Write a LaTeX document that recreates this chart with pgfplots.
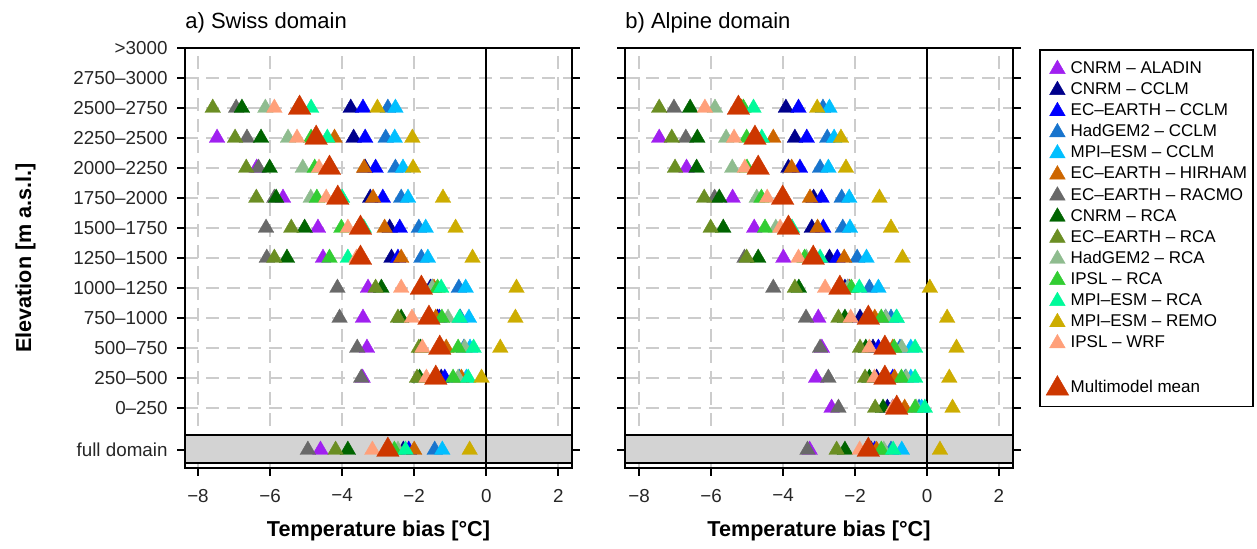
\documentclass[border=0pt]{standalone}
\usepackage{fontspec}
\setmainfont{Liberation Sans}
\usepackage{pgfplots}
\pgfplotsset{compat=1.18}
\definecolor{cAladin}{HTML}{A020F0}
\definecolor{cCnrmCclm}{HTML}{00008B}
\definecolor{cEcCclm}{HTML}{0000FF}
\definecolor{cHadCclm}{HTML}{1874CD}
\definecolor{cMpiCclm}{HTML}{00BFFF}
\definecolor{cHirham}{HTML}{CD6600}
\definecolor{cRacmo}{HTML}{696969}
\definecolor{cCnrmRca}{HTML}{006400}
\definecolor{cEcRca}{HTML}{6B8E23}
\definecolor{cHadRca}{HTML}{8FBC8F}
\definecolor{cIpslRca}{HTML}{32CD32}
\definecolor{cMpiRca}{HTML}{00FA9A}
\definecolor{cRemo}{HTML}{CDAD00}
\definecolor{cWrf}{HTML}{FFA07A}
\definecolor{cMean}{HTML}{CD3700}
\definecolor{bandgray}{HTML}{D3D3D3}
\definecolor{gridgray}{HTML}{CCCCCC}
\pgfplotsset{
 panel/.style={
  scale only axis, height=210pt, ymin=-2, ymax=12,
  ytick={-1.4,0,1,2,3,4,5,6,7,8,9,10,11,12},
  xtick={-8,-6,-4,-2,0,2},
  xticklabels={−8,−6,−4,−2,0,2},
  tick align=outside, xtick pos=left, major tick length=4pt,
  axis line style={line width=1pt},
  tick style={line width=1pt, black},
  grid=major,
  major grid style={gridgray, line width=0.9pt, dash pattern=on 6.5pt off 4pt},
  tick label style={font=\fontsize{9.4}{11}\selectfont, text=black!85},
  yticklabel style={xshift=-1.2pt},
  xticklabel style={yshift=-3pt},
  label style={font=\bfseries\fontsize{10.8}{13}\selectfont},
  title style={font=\fontsize{11}{13}\selectfont, at={(0,1)}, anchor=base west, yshift=3.5pt, inner sep=0pt},
  xlabel={Temperature bias [°C]},
  xlabel style={at={(axis description cs:0.5,-0.15)}, anchor=center},
  clip=false,
  legend image code/.code={\draw[mark repeat=2,mark phase=2,##1] plot coordinates {(0pt,0pt) (6.8pt,0pt) (13.6pt,0pt)};},
 },
 tri/.style={only marks, mark=triangle*, mark size=4.5pt, color=#1, line width=0.2pt},
 bigtri/.style={only marks, mark=triangle*, mark size=6.5pt, color=#1, line width=0.2pt},
}
\begin{document}
\begin{tikzpicture}
\useasboundingbox (0,0) rectangle (628.5pt,274.5pt);
% ---------------- Panel a ----------------
\begin{axis}[panel, at={(92.5pt,40.5pt)}, anchor=south west, width=193.5pt,
  xmin=-8.36, xmax=2.38,
  title={a) Swiss domain},
  yticklabels={full domain,0–250,250–500,500–750,750–1000,1000–1250,1250–1500,1500–1750,1750–2000,2000–2250,2250–2500,2500–2750,2750–3000,>3000},
  ylabel={Elevation [m a.s.l.]},
  ylabel style={at={(axis description cs:-0.412,0.5)}, anchor=center},
]
\draw[black, line width=1pt, fill=bandgray] (axis cs:-8.36,-0.9) rectangle (axis cs:2.38,-1.833);
\draw[black, line width=1pt] (axis cs:0,-2) -- (axis cs:0,12);
\addplot[tri=cAladin] coordinates {(-7.47,9)(-6.37,8)(-5.64,7)(-4.67,6)(-4.53,5)(-3.28,4)(-3.42,3)(-3.31,2)(-3.43,1)(-4.60,-1.4)};
\addplot[tri=cCnrmCclm] coordinates {(-3.76,10)(-3.68,9)(-3.36,8)(-3.22,7)(-2.68,6)(-2.63,5)(-1.55,4)(-1.35,3)(-1.30,2)(-1.25,1)(-2.30,-1.4)};
\addplot[tri=cEcCclm] coordinates {(-3.42,10)(-3.36,9)(-3.07,8)(-2.87,7)(-2.40,6)(-2.45,5)(-1.50,4)(-1.30,3)(-1.25,2)(-1.15,1)(-2.15,-1.4)};
\addplot[tri=cHadCclm] coordinates {(-2.73,10)(-2.79,9)(-2.52,8)(-2.36,7)(-1.87,6)(-1.80,5)(-0.76,4)(-0.72,3)(-0.62,2)(-0.75,1)(-1.43,-1.4)};
\addplot[tri=cMpiCclm] coordinates {(-2.52,10)(-2.54,9)(-2.31,8)(-2.17,7)(-1.68,6)(-1.62,5)(-0.57,4)(-0.48,3)(-0.45,2)(-0.55,1)(-1.22,-1.4)};
\addplot[tri=cHirham] coordinates {(-5.15,10)(-4.21,9)(-3.39,8)(-3.14,7)(-2.82,6)(-2.36,5)(-1.45,4)(-1.40,3)(-1.11,2)(-0.69,1)(-2.00,-1.4)};
\addplot[tri=cRacmo] coordinates {(-6.94,10)(-6.64,9)(-6.32,8)(-5.88,7)(-6.11,6)(-6.09,5)(-4.13,4)(-4.07,3)(-3.58,2)(-3.47,1)(-4.95,-1.4)};
\addplot[tri=cCnrmRca] coordinates {(-6.78,10)(-6.25,9)(-6.01,8)(-5.83,7)(-5.04,6)(-5.53,5)(-2.91,4)(-2.36,3)(-1.82,2)(-1.85,1)(-3.84,-1.4)};
\addplot[tri=cEcRca] coordinates {(-7.59,10)(-6.97,9)(-6.66,8)(-6.38,7)(-5.41,6)(-5.88,5)(-3.07,4)(-2.45,3)(-1.87,2)(-1.92,1)(-4.18,-1.4)};
\addplot[tri=cHadRca] coordinates {(-6.13,10)(-5.50,9)(-5.09,8)(-4.87,7)(-3.55,6)(-3.55,5)(-1.50,4)(-1.06,3)(-0.60,2)(-0.78,1)(-2.45,-1.4)};
\addplot[tri=cIpslRca] coordinates {(-5.23,10)(-4.86,9)(-4.76,8)(-4.70,7)(-4.02,6)(-4.35,5)(-1.35,4)(-1.23,3)(-0.78,2)(-0.92,1)(-2.55,-1.4)};
\addplot[tri=cMpiRca] coordinates {(-4.86,10)(-4.41,9)(-4.30,8)(-4.00,7)(-3.40,6)(-3.84,5)(-1.25,4)(-0.74,3)(-0.35,2)(-0.50,1)(-2.24,-1.4)};
\addplot[tri=cRemo] coordinates {(-3.02,10)(-2.05,9)(-2.03,8)(-1.20,7)(-0.85,6)(-0.38,5)(0.84,4)(0.81,3)(0.39,2)(-0.13,1)(-0.46,-1.4)};
\addplot[tri=cWrf] coordinates {(-5.88,10)(-5.25,9)(-4.64,8)(-4.44,7)(-3.84,6)(-3.60,5)(-2.36,4)(-2.06,3)(-1.77,2)(-1.66,1)(-3.16,-1.4)};
\addplot[bigtri=cMean] coordinates {(-5.18,10)(-4.72,9)(-4.35,8)(-4.12,7)(-3.49,6)(-3.49,5)(-1.80,4)(-1.59,3)(-1.29,2)(-1.40,1)(-2.73,-1.4)};
\end{axis}
% ---------------- Panel b ----------------
\begin{axis}[panel, at={(312.5pt,40.5pt)}, anchor=south west, width=194pt,
  xmin=-8.39, xmax=2.39,
  title={b) Alpine domain},
  yticklabels={},
  legend style={at={(1.067,0.997)}, anchor=north west, draw=black, line width=0.8pt,
    inner xsep=2pt, inner ysep=5pt, font=\fontsize{8.5}{10}\selectfont, row sep=2.05pt,
    nodes={inner xsep=1pt, inner ysep=0pt, text height=6.2pt, text depth=1.8pt},
    cells={anchor=west}},
  legend cell align=left,
]
\draw[black, line width=1pt, fill=bandgray] (axis cs:-8.39,-0.9) rectangle (axis cs:2.39,-1.833);
\draw[black, line width=1pt] (axis cs:0,-2) -- (axis cs:0,12);
\addplot[tri=cAladin] coordinates {(-7.44,9)(-6.68,8)(-5.40,7)(-4.80,6)(-3.99,5)(-3.02,3)(-2.92,2)(-3.08,1)(-2.65,0)(-3.26,-1.4)};
\addlegendentry{CNRM – ALADIN}
\addplot[tri=cCnrmCclm] coordinates {(-3.92,10)(-3.67,9)(-3.85,8)(-3.15,7)(-3.20,6)(-2.71,5)(-2.28,4)(-1.86,3)(-1.50,2)(-1.40,1)(-1.10,0)(-1.55,-1.4)};
\addlegendentry{CNRM – CCLM}
\addplot[tri=cEcCclm] coordinates {(-3.57,10)(-3.34,9)(-3.53,8)(-2.93,7)(-2.88,6)(-2.49,5)(-2.20,4)(-1.15,3)(-1.35,2)(-0.95,1)(-0.95,0)(-1.45,-1.4)};
\addlegendentry{EC–EARTH – CCLM}
\addplot[tri=cHadCclm] coordinates {(-2.89,10)(-2.77,9)(-2.97,8)(-2.37,7)(-2.34,6)(-1.94,5)(-1.60,4)(-1.00,3)(-0.75,2)(-0.60,1)(-0.22,0)(-1.00,-1.4)};
\addlegendentry{HadGEM2 – CCLM}
\addplot[tri=cMpiCclm] coordinates {(-2.71,10)(-2.58,9)(-2.74,8)(-2.16,7)(-2.14,6)(-1.68,5)(-1.35,4)(-0.85,3)(-0.45,2)(-0.45,1)(-0.15,0)(-0.70,-1.4)};
\addlegendentry{MPI–ESM – CCLM}
\addplot[tri=cHirham] coordinates {(-5.15,10)(-4.27,9)(-3.76,8)(-3.25,7)(-3.04,6)(-2.30,5)(-2.15,4)(-1.45,3)(-0.95,2)(-0.90,1)(-0.62,0)(-1.40,-1.4)};
\addlegendentry{EC–EARTH – HIRHAM}
\addplot[tri=cRacmo] coordinates {(-7.03,10)(-6.70,9)(-5.90,7)(-5.07,5)(-4.27,4)(-3.36,3)(-2.97,2)(-2.74,1)(-2.46,0)(-3.32,-1.4)};
\addlegendentry{EC–EARTH – RACMO}
\addplot[tri=cCnrmRca] coordinates {(-6.58,10)(-6.38,9)(-6.40,8)(-5.77,7)(-5.66,6)(-4.69,5)(-3.56,4)(-2.28,3)(-1.70,2)(-1.60,1)(-1.22,0)(-2.28,-1.4)};
\addlegendentry{CNRM – RCA}
\addplot[tri=cEcRca] coordinates {(-7.44,10)(-7.09,9)(-7.00,8)(-6.19,7)(-6.01,6)(-5.01,5)(-3.67,4)(-2.46,3)(-1.86,2)(-1.72,1)(-1.44,0)(-2.51,-1.4)};
\addlegendentry{EC–EARTH – RCA}
\addplot[tri=cHadRca] coordinates {(-5.89,10)(-5.58,9)(-5.41,8)(-4.73,7)(-4.20,6)(-3.35,5)(-2.20,4)(-1.15,3)(-0.70,2)(-0.58,1)(-0.30,0)(-1.20,-1.4)};
\addlegendentry{HadGEM2 – RCA}
\addplot[tri=cIpslRca] coordinates {(-5.10,10)(-5.01,9)(-5.00,8)(-4.60,7)(-4.50,6)(-3.40,5)(-2.10,4)(-1.27,3)(-0.91,2)(-0.71,1)(-0.33,0)(-1.27,-1.4)};
\addlegendentry{IPSL – RCA}
\addplot[tri=cMpiRca] coordinates {(-4.82,10)(-4.59,9)(-4.65,8)(-4.00,7)(-3.75,6)(-2.97,5)(-1.88,4)(-0.84,3)(-0.33,2)(-0.33,1)(-0.06,0)(-0.94,-1.4)};
\addlegendentry{MPI–ESM – RCA}
\addplot[tri=cRemo] coordinates {(-3.05,10)(-2.39,9)(-2.25,8)(-1.32,7)(-1.00,6)(-0.68,5)(0.08,4)(0.56,3)(0.82,2)(0.62,1)(0.71,0)(0.36,-1.4)};
\addlegendentry{MPI–ESM – REMO}
\addplot[tri=cWrf] coordinates {(-6.17,10)(-5.36,9)(-5.06,8)(-4.44,7)(-4.08,6)(-3.57,5)(-2.83,4)(-2.12,3)(-1.60,2)(-1.46,1)(-0.95,0)(-1.87,-1.4)};
\addlegendentry{IPSL – WRF}
\addlegendimage{empty legend}
\addlegendentry{}
\addplot[bigtri=cMean] coordinates {(-5.24,10)(-4.78,9)(-4.69,8)(-4.01,7)(-3.85,6)(-3.16,5)(-2.42,4)(-1.63,3)(-1.17,2)(-1.17,1)(-0.84,0)(-1.63,-1.4)};
\addlegendentry{Multimodel mean}
\end{axis}
\end{tikzpicture}
\end{document}
